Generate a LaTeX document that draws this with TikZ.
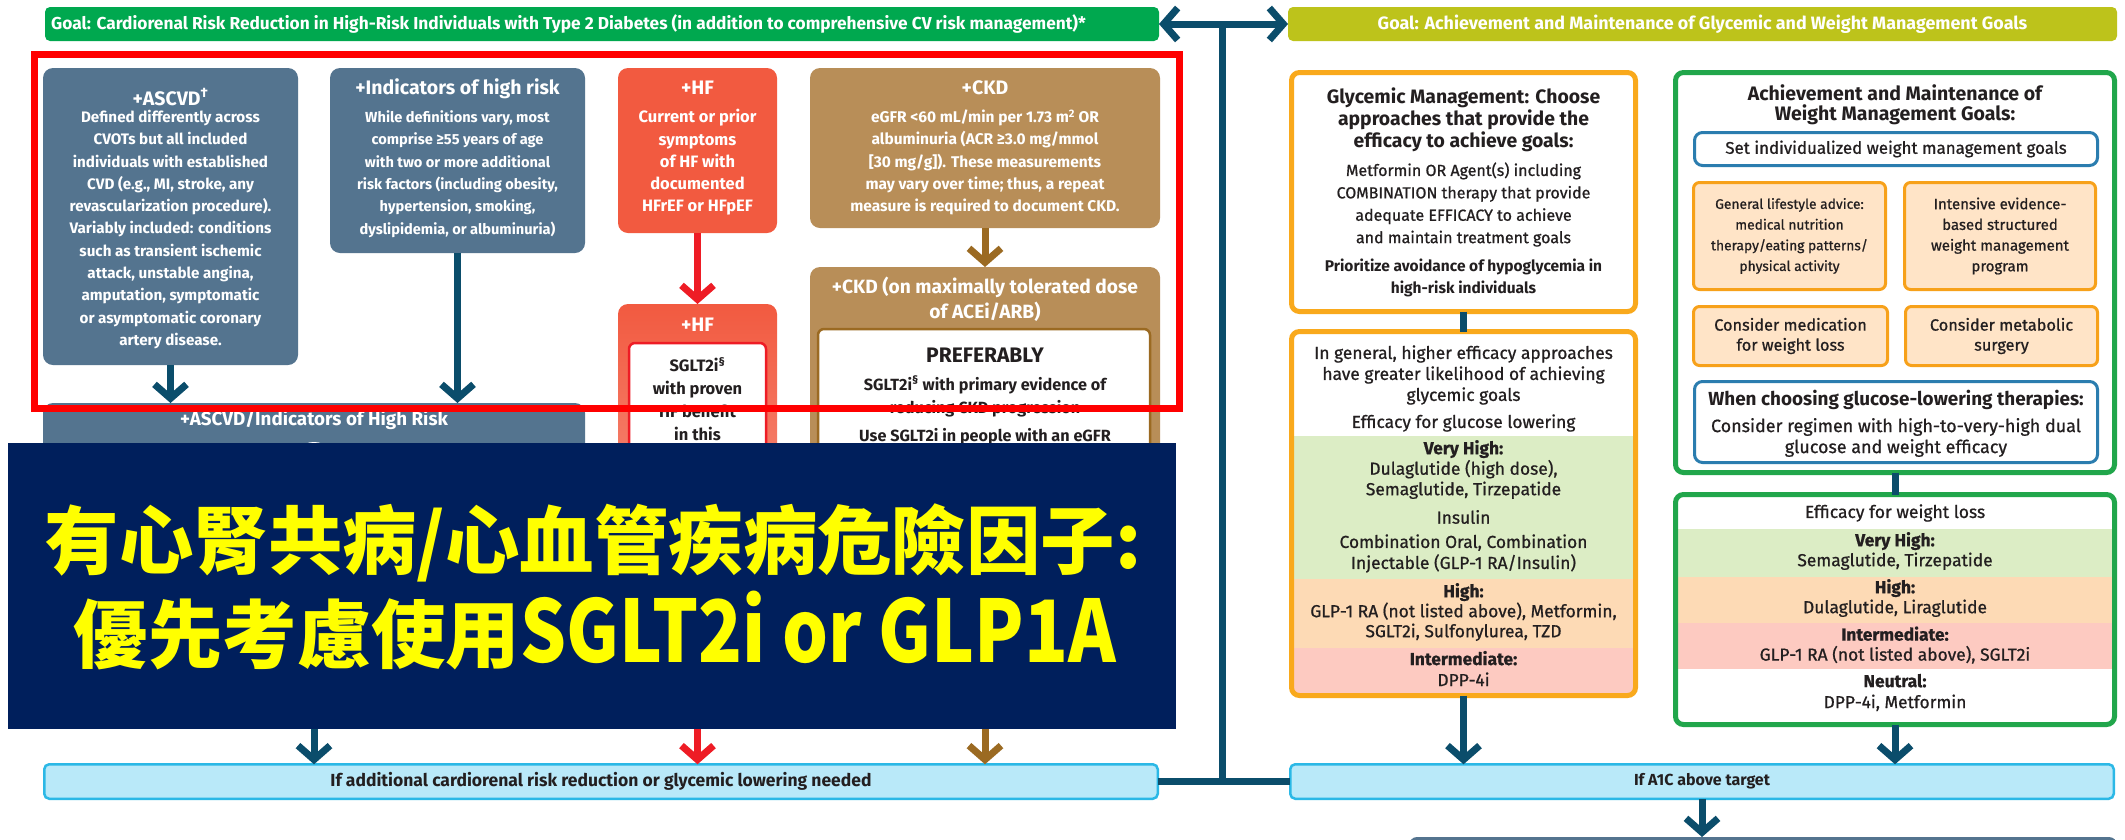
\documentclass[tikz,border=0pt]{standalone}
\usepackage{fontspec}
\usepackage{graphicx}
\setmainfont{Fira Sans}
\newfontfamily\medfont{Fira Sans}[FakeBold=0.8]
\newfontfamily\cjk{Noto Sans CJK TC}
\usetikzlibrary{arrows.meta}

\definecolor{slate}{HTML}{54748F}
\definecolor{hfcoral}{HTML}{F25A40}
\definecolor{arrowred}{HTML}{EE1C25}
\definecolor{ckdtan}{HTML}{B88E58}
\definecolor{arrowbrown}{HTML}{9B6A22}
\definecolor{navy}{HTML}{0B4D6B}
\definecolor{goalgreen}{HTML}{00A84F}
\definecolor{goalolive}{HTML}{BDC31B}
\definecolor{barfill}{HTML}{B9E9F9}
\definecolor{barline}{HTML}{2BB8E6}
\definecolor{glycline}{HTML}{F9A91C}
\definecolor{wgreen}{HTML}{21A64B}
\definecolor{bandgreen}{HTML}{DCEDC5}
\definecolor{bandorange}{HTML}{FDDAB5}
\definecolor{bandred}{HTML}{FDCAC1}
\definecolor{optfill}{HTML}{FFE4C7}
\definecolor{optline}{HTML}{F7A11A}
\definecolor{blueline}{HTML}{2B7DAF}
\definecolor{ovnavy}{HTML}{001F5C}
\definecolor{darktext}{HTML}{231F20}
\definecolor{ovyellow}{HTML}{FFFF00}
\definecolor{annred}{HTML}{FF0000}

\newcommand{\fsz}[2]{\fontsize{#1}{#2}\selectfont}

\tikzstyle{box} = [inner sep=0pt, outer sep=0pt]
\tikzstyle{goalbox} = [box, rounded corners=5pt, minimum height=34]
\tikzstyle{slatebox} = [box, fill=slate, rounded corners=10pt]
\tikzstyle{barbox} = [box, fill=barfill, draw=barline, line width=2.5pt, rounded corners=5pt, minimum height=34.5, text=darktext, font={\bfseries\fsz{17.5}{20}}]
\tikzstyle{glycbox} = [box, draw=glycline, fill=white, line width=5pt, rounded corners=8pt]
\tikzstyle{wbox} = [box, draw=wgreen, fill=white, line width=5pt, rounded corners=8pt]
\tikzstyle{bluebox} = [box, draw=blueline, fill=white, line width=3pt, rounded corners=8pt, align=center, text=darktext]
\tikzstyle{optbox} = [box, draw=optline, fill=optfill, line width=3pt, rounded corners=6pt, align=center, text=darktext]
\tikzstyle{wtext} = [inner sep=0pt, text=white, align=center]
\tikzstyle{dtext} = [inner sep=0pt, text=darktext, align=center]
\tikzstyle{flow} = [line width=7pt, draw=navy, -{Straight Barb[length=14pt,width=32pt]}]
\tikzstyle{link} = [line width=7pt, draw=navy]

\begin{document}
\begin{tikzpicture}[x=1pt,y=-1pt]
\useasboundingbox (0,0) rectangle (2125,839);
\fill[white] (0,0) rectangle (2125,839);

% goal bars
\node[goalbox, fill=goalgreen, minimum width=1114] (goalL) at (602,24) {};
\node[wtext, anchor=west, font={\bfseries\fsz{17.3}{20}}] (goalLt) at ([xshift=6pt]goalL.west) {Goal: Cardiorenal Risk Reduction in High-Risk Individuals with Type 2 Diabetes (in addition to comprehensive CV risk management)*};
\node[goalbox, fill=goalolive, minimum width=829, text=white, font={\bfseries\fsz{17.9}{20}}] (goalR) at (1702.5,24) {Goal: Achievement and Maintenance of Glycemic and Weight Management Goals};

% left column
\node[slatebox, minimum width=255, minimum height=297] (ascvd) at (170.5,216.5) {};
\node[wtext, font={\bfseries\fsz{19.5}{22}}] (ascvdhd) at (170.5,97) {+ASCVD\textsuperscript{†}};
\node[wtext, font={\bfseries\fsz{15.2}{22.3}}] (ascvdtx) at (170.5,229.5) {Defined differently across\\CVOTs but all included\\individuals with established\\CVD (e.g., MI, stroke, any\\revascularization procedure).\\Variably included: conditions\\such as transient ischemic\\attack, unstable angina,\\amputation, symptomatic\\or asymptomatic coronary\\artery disease.};

\node[slatebox, minimum width=255, minimum height=185] (indic) at (457.5,160.5) {};
\node[wtext, font={\bfseries\fsz{19.5}{22}}] (indichd) at (457.5,89) {+Indicators of high risk};
\node[wtext, font={\bfseries\fsz{14.6}{22.4}}] (indictx) at (457.5,174) {While definitions vary, most\\comprise ≥55 years of age\\with two or more additional\\risk factors (including obesity,\\hypertension, smoking,\\dyslipidemia, or albuminuria)};

\node[slatebox, minimum width=542, minimum height=317] (ascvdind) at (314,561.5) {};
\node[wtext, font={\bfseries\fsz{18.8}{22}}] (ascvdindhd) at (314,420) {+ASCVD/Indicators of High Risk};
\fill[white] (314,464) circle (22);

\node[slatebox, fill=hfcoral, minimum width=159, minimum height=165] (hf) at (697.5,150.5) {};
\node[wtext, font={\bfseries\fsz{19.5}{22}}] (hfhd) at (697.5,88) {+HF};
\node[wtext, font={\bfseries\fsz{16.5}{22.2}}] (hftx) at (697.5,162.5) {Current or prior\\symptoms\\of HF with\\documented\\HFrEF or HFpEF};

\node[box, rounded corners=10pt, top color=hfcoral, bottom color=hfcoral!45!white, minimum width=159, minimum height=416] (hf2) at (697.5,512) {};
\node[wtext, font={\bfseries\fsz{19.5}{22}}] (hf2hd) at (697.5,325) {+HF};
\node[box, fill=white, draw=arrowred, line width=2.5pt, rounded corners=6pt, minimum width=137, minimum height=372] (hf2in) at (697.5,529) {};
\node[dtext, font={\bfseries\fsz{16.5}{22.7}}] (hf2tx) at (697.5,399) {SGLT2i\textsuperscript{§}\\with proven\\HF benefit\\in this};

\node[slatebox, fill=ckdtan, minimum width=350, minimum height=160] (ckd) at (985,148) {};
\node[wtext, font={\bfseries\fsz{19.5}{22}}] (ckdhd) at (985,88) {+CKD};
\node[wtext, font={\bfseries\fsz{15.5}{22.2}}] (ckdtx) at (985,162.5) {eGFR <60 mL/min per 1.73 m\textsuperscript{2} OR\\albuminuria (ACR ≥3.0 mg/mmol\\{[}30 mg/g{]}). These measurements\\may vary over time; thus, a repeat\\measure is required to document CKD.};

\node[slatebox, fill=ckdtan, minimum width=350, minimum height=453] (ckd2) at (985,493.5) {};
\node[wtext, font={\bfseries\fsz{19.2}{25}}] (ckd2hd) at (985,299.5) {+CKD (on maximally tolerated dose\\of ACEi/ARB)};
\node[box, fill=white, draw=arrowbrown, line width=2.5pt, rounded corners=6pt, minimum width=332, minimum height=386] (ckd2in) at (984,522) {};
\node[dtext, font={\bfseries\fsz{21}{24}}] (prefer) at (985,355) {PREFERABLY};
\node[dtext, font={\bfseries\fsz{16.2}{23}}] (ckd2tx) at (985,396.5) {SGLT2i\textsuperscript{§} with primary evidence of\\reducing CKD progression};
\node[dtext, font={\bfseries\fsz{16.2}{18}}] (ckd2use) at (985,437) {Use SGLT2i in people with an eGFR};

% arrows, left column
\draw[flow] (ascvd.south) -- (ascvd.south |- ascvdind.north);
\draw[flow] (indic.south) -- (indic.south |- ascvdind.north);
\draw[flow, draw=arrowred] (hf.south) -- (hf2.north);
\draw[flow, draw=arrowbrown] (ckd.south) -- (ckd2.north);

% mark
\node[box, draw=annred, line width=7pt, minimum width=1145, minimum height=354] (mark) at (606.5,231) {};

% bottom bars
\node[barbox, minimum width=1113.5] (barL) at (601,781.5) {If additional cardiorenal risk reduction or glycemic lowering needed};
\node[barbox, minimum width=823.5, font={\bfseries\fsz{16}{18}}] (barR) at (1702,781.5) {If A1C above target};
\node[box, fill=slate, rounded corners=8pt, minimum width=708, minimum height=63] (nextbox) at (1763,868.5) {};

\draw[flow] (ascvdind.south) -- (ascvdind.south |- barL.north);
\draw[flow, draw=arrowred] (hf2.south) -- (hf2.south |- barL.north);
\draw[flow, draw=arrowbrown] (ckd2.south) -- (ckd2.south |- barL.north);

% cover
\node[box, fill=ovnavy, minimum width=1168, minimum height=286] (cover) at (592,586) {};
\node[inner sep=0pt, text=ovyellow, font={\cjk\bfseries\fsz{74.4}{84}}] (zh1) at (593,543) {有心腎共病/心血管疾病危險因子:};
\node[inner sep=0pt, text=ovyellow, font={\cjk\bfseries\fsz{74.4}{84}}] (zh2) at (595,631) {優先考慮使用\scalebox{0.84}[1]{\fsz{86}{100}SGLT2i or GLP1A}};

% glycemic column
\node[glycbox, minimum width=344, minimum height=239] (glyc1) at (1463.5,192) {};
\node[dtext, font={\bfseries\fsz{19.4}{22}}] (glyc1hd) at (1463.5,120) {Glycemic Management: Choose\\approaches that provide the\\efficacy to achieve goals:};
\node[dtext, font={\medfont\fsz{16}{22.4}}] (glyc1tx) at (1463.5,204.5) {Metformin OR Agent(s) including\\COMBINATION therapy that provide\\adequate EFFICACY to achieve\\and maintain treatment goals};
\node[dtext, font={\bfseries\fsz{15.5}{22}}] (prior) at (1463.5,278) {Prioritize avoidance of hypoglycemia in\\high-risk individuals};

\node[glycbox, draw=none, minimum width=344, minimum height=364] (glyc2) at (1463.5,513.5) {};
\node[box, fill=bandgreen, minimum width=344, minimum height=143] (gvh) at (1463.5,507.5) {};
\node[box, fill=bandorange, minimum width=344, minimum height=69] (ghi) at (1463.5,613.5) {};
\node[box, fill=bandred, minimum width=344, minimum height=45] (gint) at (1463.5,670.5) {};
\draw[draw=glycline, line width=5pt, rounded corners=8pt] (glyc2.north west) rectangle (glyc2.south east);
\node[dtext, font={\medfont\fsz{17.4}{21}}] (glyc2tx) at (1463.5,375) {In general, higher efficacy approaches\\have greater likelihood of achieving\\glycemic goals};
\node[dtext, font={\medfont\fsz{17.4}{20}}] (geff) at (1463.5,423) {Efficacy for glucose lowering};
\node[dtext, font={\medfont\fsz{17.4}{20.5}}] (gvhtx) at (1463.5,469.5) {\textbf{Very High:}\\Dulaglutide (high dose),\\Semaglutide, Tirzepatide};
\node[dtext, font={\medfont\fsz{17.4}{20}}] (gins) at (1463.5,517) {Insulin};
\node[dtext, font={\medfont\fsz{17.4}{21}}] (gcomb) at (1463.5,553.5) {Combination Oral, Combination\\Injectable (GLP-1 RA/Insulin)};
\node[dtext, font={\medfont\fsz{17.4}{20}}] (ghitx) at (1463.5,612) {\textbf{High:}\\GLP-1 RA (not listed above), Metformin,\\SGLT2i, Sulfonylurea, TZD};
\node[dtext, font={\medfont\fsz{17.4}{21}}] (ginttx) at (1463.5,668.5) {\textbf{Intermediate:}\\DPP-4i};

% weight column
\node[wbox, minimum width=439, minimum height=400] (weight1) at (1895,272.5) {};
\node[dtext, font={\bfseries\fsz{19.5}{20}}] (weight1hd) at (1895,105) {Achievement and Maintenance of\\Weight Management Goals:};
\node[bluebox, minimum width=403, minimum height=33, font={\medfont\fsz{16.9}{20}}] (setgoal) at (1896,149) {Set individualized weight management goals};
\node[optbox, minimum width=192, minimum height=107, font={\medfont\fsz{13.8}{20.7}}] (life) at (1789.5,236) {General lifestyle advice:\\medical nutrition\\therapy/eating patterns/\\physical activity};
\node[optbox, minimum width=191, minimum height=107, font={\medfont\fsz{15}{20.7}}] (intens) at (2000,236) {Intensive evidence-\\based structured\\weight management\\program};
\node[optbox, minimum width=194, minimum height=59, font={\medfont\fsz{16.3}{20}}] (medic) at (1790.5,336) {Consider medication\\for weight loss};
\node[optbox, minimum width=192, minimum height=59, font={\medfont\fsz{16.3}{20}}] (surg) at (2001.5,336) {Consider metabolic\\surgery};
\node[bluebox, minimum width=403, minimum height=81] (choose) at (1896,422) {};
\node[dtext, font={\bfseries\fsz{18.9}{20}}] (choosehd) at (1896,400) {When choosing glucose-lowering therapies:};
\node[dtext, font={\medfont\fsz{17.9}{21}}] (choosetx) at (1896,437.5) {Consider regimen with high-to-very-high dual\\glucose and weight efficacy};

\node[wbox, draw=none, minimum width=439, minimum height=230] (weight2) at (1895,609.5) {};
\node[box, fill=bandgreen, minimum width=439, minimum height=48] (wvh) at (1895,553) {};
\node[box, fill=bandorange, minimum width=439, minimum height=46] (whi) at (1895,600) {};
\node[box, fill=bandred, minimum width=439, minimum height=46] (wint) at (1895,646) {};
\draw[draw=wgreen, line width=5pt, rounded corners=8pt] (weight2.north west) rectangle (weight2.south east);
\node[dtext, font={\medfont\fsz{17.5}{20}}] (weff) at (1895,513) {Efficacy for weight loss};
\node[dtext, font={\medfont\fsz{17.4}{20}}] (wvhtx) at (1895,551) {\textbf{Very High:}\\Semaglutide, Tirzepatide};
\node[dtext, font={\medfont\fsz{17.4}{20}}] (whitx) at (1895,598) {\textbf{High:}\\Dulaglutide, Liraglutide};
\node[dtext, font={\medfont\fsz{17.4}{20}}] (winttx) at (1895,645) {\textbf{Intermediate:}\\GLP-1 RA (not listed above), SGLT2i};
\node[dtext, font={\medfont\fsz{17.4}{21}}] (wneutx) at (1895,692.5) {\textbf{Neutral:}\\DPP-4i, Metformin};

% arrows, right side
\draw[link] (glyc1.south) -- (glyc2.north);
\draw[flow] (glyc2.south) -- (glyc2.south |- barR.north);
\draw[link] (weight1.south) -- (weight2.north);
\draw[flow] (weight2.south) -- (weight2.south |- barR.north);
\draw[flow] (barR.south) -- (barR.south |- nextbox.north);

% links between the two halves
\draw[line width=7pt, draw=navy, {Straight Barb[length=14pt,width=32pt]}-{Straight Barb[length=14pt,width=32pt]}] (goalL.east) -- (goalR.west);
\coordinate (jtop) at (1222,24);
\draw[link] (jtop) -- (jtop |- barL.east);
\draw[link] (barL.east) -- (barR.west);
\end{tikzpicture}
\end{document}
